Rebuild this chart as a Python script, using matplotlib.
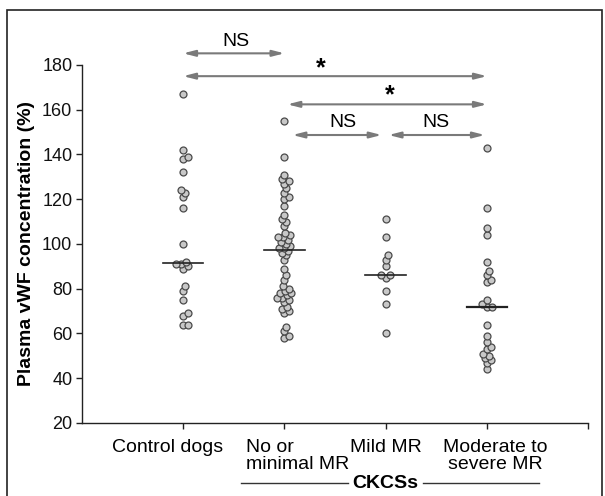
import numpy as np
import matplotlib
matplotlib.use("Agg")
import matplotlib.pyplot as plt
from matplotlib.patches import Rectangle

plt.rcParams['font.family'] = ['Liberation Sans', 'DejaVu Sans']

# ---- data ----
groups = ["Control dogs", "No or\nminimal MR", "Mild MR", "Moderate to\nsevere MR"]
control = [167, 142, 139, 138, 132, 124, 123, 121, 116, 100, 92, 91, 91, 90, 89,
           81, 79, 75, 69, 68, 64, 64]
no_min = [155, 139, 131, 129, 128, 127, 125, 123, 121, 120, 117, 113, 111, 110, 108,
          105, 104, 103, 103, 102, 101, 100, 99, 98, 98, 97, 96, 95, 93, 89, 86, 84,
          81, 80, 79, 78, 78, 77, 76, 76, 75, 74, 72, 71, 70, 69, 63, 61, 59, 58]
mild = [111, 103, 95, 93, 90, 86, 86, 85, 79, 73, 60]
moderate = [143, 116, 107, 104, 92, 88, 86, 84, 83, 75, 73, 72, 72, 64, 59, 56, 54,
            53, 51, 50, 49, 48, 47, 44]
series = [control, no_min, mild, moderate]
yticks = [20, 40, 60, 80, 100, 120, 140, 160, 180]

# comparisons: (x0, x1, y, label, label_x, label_y)
comparisons = [
    (0.0, 1.0, 185.2, "NS", 0.52, 190.5),
    (0.0, 3.0, 175.0, "*", 1.36, 178.5),
    (1.03, 3.0, 162.4, "*", 2.04, 166.3),
    (1.08, 1.96, 148.7, "NS", 1.58, 154.3),
    (2.03, 2.98, 148.7, "NS", 2.50, 154.3),
]

fig = plt.figure(figsize=(6.05, 4.96), dpi=100)
ax = fig.add_axes([0.1355, 0.1472, 0.972 - 0.1355, 0.869 - 0.1472])
ax.set_xlim(-1, 4.0)
ax.set_ylim(20, 180)

for s in ["top", "right"]:
    ax.spines[s].set_visible(False)
for s in ["left", "bottom"]:
    ax.spines[s].set_color("#222222")
    ax.spines[s].set_linewidth(1.0)

ax.set_yticks(yticks)
ax.tick_params(axis='y', labelsize=13, length=4, width=1, colors="#222222",
               labelcolor="#111111", pad=3)
ax.set_xticks([0, 1, 2, 3, 4])
ax.set_xticklabels([])
ax.tick_params(axis='x', length=4, width=1, colors="#222222")

ax.set_ylabel("Plasma vWF concentration (%)", fontsize=14, fontweight='bold', labelpad=5)

# ---- beeswarm ----
fig.canvas.draw()
d = 6.6  # marker diameter in px
def swarm(vals, xc):
    pts = []
    out = []
    cx_pix = ax.transData.transform((xc, 0))[0]
    for v in vals:
        ypix = ax.transData.transform((xc, v))[1]
        best = None
        for k in range(0, 40):
            for sgn in ([0] if k == 0 else [1, -1]):
                off = sgn * k * 0.5
                ok = True
                for (px, py) in pts:
                    if (px - (cx_pix + off)) ** 2 + (py - ypix) ** 2 < (d * 0.74) ** 2:
                        ok = False
                        break
                if ok:
                    best = off
                    break
            if best is not None:
                break
        pts.append((cx_pix + best, ypix))
        xd = ax.transData.inverted().transform((cx_pix + best, ypix))[0]
        out.append(xd)
    return out

for i, vals in enumerate(series):
    order = sorted(vals)
    xs = swarm(order, i)
    ax.plot(xs, order, 'o', ms=5.0, mfc="#c8c8c8", mec="#4a4a4a", mew=0.9,
            clip_on=False, zorder=3)
    med = np.median(vals)
    ax.plot([i - 0.2, i + 0.2], [med, med], color="#222222",
            lw=1.6 if i == 3 else 1.2, zorder=4)

# ---- comparison arrows ----
for x0, x1, y, lab, lx, ly in comparisons:
    ax.annotate("", xy=(x1, y), xytext=(x0, y),
                arrowprops=dict(arrowstyle="<|-|>,head_length=0.7,head_width=0.18",
                                color="#7a7a7a", lw=1.5, shrinkA=0, shrinkB=0),
                annotation_clip=False)
    if lab == "*":
        ax.text(lx, ly, lab, ha='center', va='center', fontsize=18, fontweight='bold',
                clip_on=False)
    else:
        ax.text(lx, ly, lab, ha='center', va='center', fontsize=14, clip_on=False)

# ---- category labels ----
trans = ax.get_xaxis_transform()
fs = 14
ax.text(-0.157, -0.045, "Control dogs", transform=trans, ha='center', va='top', fontsize=fs)
ax.text(0.62, -0.045, "No or\nminimal MR", transform=trans, ha='left', va='top',
        fontsize=fs, linespacing=1.0)
ax.text(2.0, -0.045, "Mild MR", transform=trans, ha='center', va='top', fontsize=fs)
ax.text(3.08, -0.045, "Moderate to\nsevere MR", transform=trans, ha='center', va='top',
        fontsize=fs, linespacing=1.0)

yc = -0.168
ax.text(2.0, yc, "CKCSs", transform=trans, ha='center', va='center', fontsize=fs,
        fontweight='bold')
ax.plot([0.573, 1.63], [yc, yc], transform=trans, color="#333333", lw=1.0, clip_on=False)
ax.plot([2.37, 3.52], [yc, yc], transform=trans, color="#333333", lw=1.0, clip_on=False)

# outer frame
fig.add_artist(Rectangle((0.012, -0.01), 0.983, 1 - 0.0202 + 0.01, transform=fig.transFigure,
                         fill=False, edgecolor="#222222", lw=1.2))

fig.savefig("out.png", dpi=100)
